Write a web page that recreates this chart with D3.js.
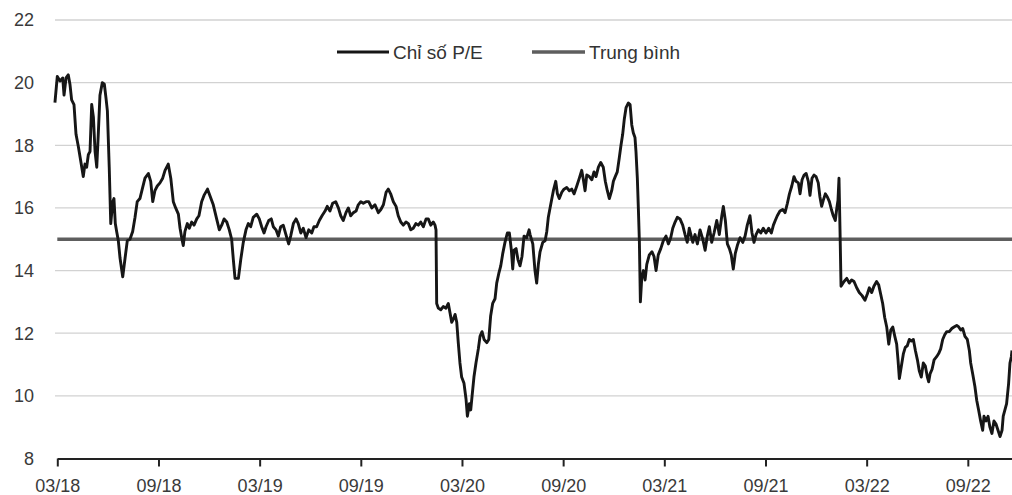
<!DOCTYPE html>
<html>
<head>
<meta charset="utf-8">
<script src="https://cdn.jsdelivr.net/npm/d3@7"></script>
<style>
  html, body { margin: 0; padding: 0; background: #fff; }
  svg { display: block; font-family: "Liberation Sans", Arial, Helvetica, sans-serif; }
</style>
</head>
<body>
<svg id="chart" width="1012" height="495"></svg>
<script>
// ---- Data (x = months since 03/2018) ----
const months = [
-0.14,0.00,0.16,0.32,0.40,0.52,0.65,0.75,0.85,0.99,1.11,1.25,1.39,1.54,1.64,1.74,1.84,1.94,2.04,2.14,
2.24,2.34,2.43,2.53,2.67,2.79,2.89,2.97,3.08,3.17,3.29,3.36,3.44,3.52,3.62,3.72,3.88,4.02,4.15,4.31,
4.47,4.61,4.74,4.90,5.06,5.20,5.40,5.54,5.66,5.79,5.93,6.09,6.25,6.39,6.58,6.73,6.88,7.02,7.18,7.28,
7.41,7.47,7.57,7.71,7.83,7.97,8.11,8.27,8.40,8.56,8.70,8.91,9.25,9.45,9.61,9.75,9.89,10.05,10.20,10.34,
10.44,10.54,10.74,10.88,11.03,11.19,11.33,11.47,11.62,11.83,11.98,12.12,12.26,12.38,12.54,12.69,12.81,12.97,13.11,13.25,
13.40,13.56,13.72,13.84,14.00,14.16,14.29,14.44,14.59,14.75,14.91,15.09,15.22,15.38,15.54,15.70,15.88,16.01,16.17,16.33,
16.51,16.67,16.81,16.96,17.12,17.26,17.40,17.56,17.72,17.85,18.00,18.15,18.31,18.47,18.65,18.84,19.04,19.19,19.34,19.50,
19.63,19.77,19.93,20.09,20.22,20.37,20.52,20.68,20.82,20.96,21.11,21.27,21.41,21.55,21.71,21.87,22.00,22.15,22.30,22.40,
22.46,22.50,22.60,22.74,22.89,23.05,23.19,23.29,23.39,23.49,23.59,23.69,23.78,23.88,23.98,24.12,24.24,24.32,24.44,24.52,
24.60,24.71,24.83,24.97,25.07,25.19,25.31,25.47,25.59,25.70,25.82,25.96,26.06,26.18,26.30,26.42,26.55,26.69,26.81,26.93,
27.01,27.09,27.21,27.32,27.44,27.56,27.68,27.84,27.98,28.04,28.20,28.33,28.43,28.53,28.63,28.79,28.93,29.03,29.12,29.26,
29.42,29.56,29.66,29.77,29.92,30.05,30.21,30.37,30.51,30.65,30.81,30.96,31.10,31.20,31.30,31.40,31.55,31.70,31.83,31.95,
32.09,32.23,32.38,32.50,32.62,32.74,32.88,32.98,33.09,33.21,33.33,33.43,33.53,33.63,33.73,33.87,33.97,34.07,34.16,34.26,
34.32,34.40,34.46,34.52,34.58,34.66,34.76,34.86,34.96,35.11,35.27,35.39,35.51,35.64,35.79,35.94,36.10,36.24,36.38,36.50,
36.64,36.77,36.93,37.09,37.23,37.36,37.48,37.69,37.82,37.96,38.12,38.28,38.42,38.55,38.67,38.81,38.95,39.11,39.26,39.41,
39.50,39.62,39.74,39.86,39.97,40.09,40.21,40.33,40.49,40.65,40.79,40.92,41.08,41.20,41.32,41.44,41.58,41.72,41.87,42.03,
42.19,42.35,42.47,42.58,42.70,42.86,43.02,43.16,43.30,43.42,43.56,43.69,43.81,43.95,44.05,44.17,44.29,44.41,44.54,44.64,
44.76,44.88,45.00,45.13,45.23,45.33,45.43,45.55,45.67,45.79,45.91,46.02,46.14,46.22,46.30,46.36,46.42,46.48,46.66,46.82,
46.97,47.11,47.25,47.41,47.56,47.73,47.90,48.04,48.16,48.30,48.43,48.59,48.71,48.83,48.95,49.07,49.19,49.31,49.43,49.55,
49.67,49.78,49.86,49.94,50.06,50.18,50.29,50.41,50.53,50.65,50.77,50.89,51.01,51.12,51.24,51.36,51.48,51.60,51.68,51.76,
51.88,52.00,52.15,52.27,52.39,52.51,52.63,52.75,52.90,53.05,53.18,53.34,53.46,53.58,53.70,53.83,53.97,54.09,54.17,54.29,
54.42,54.53,54.64,54.76,54.88,54.96,55.08,55.20,55.31,55.43,55.55,55.67,55.79,55.91,56.03,56.10,56.20,56.30,56.42,56.50,
56.58,56.62
];
const peValues = [
19.36,20.2,20.05,20.15,19.6,20.15,20.25,19.95,19.45,19.3,18.35,17.95,17.5,17.0,17.4,17.3,17.7,17.8,19.3,18.9,
17.8,17.3,18.35,19.6,20.0,19.95,19.5,19.1,17.3,15.5,16.2,16.3,15.5,15.25,14.95,14.4,13.8,14.4,14.95,15.0,
15.25,15.7,16.2,16.3,16.65,16.95,17.1,16.85,16.2,16.55,16.7,16.8,16.95,17.2,17.4,16.95,16.2,16.0,15.8,15.35,
14.95,14.8,15.25,15.5,15.35,15.55,15.45,15.65,15.75,16.2,16.4,16.6,16.1,15.65,15.3,15.45,15.65,15.55,15.3,15.0,
14.35,13.75,13.75,14.35,14.9,15.3,15.5,15.4,15.7,15.8,15.65,15.4,15.2,15.4,15.6,15.65,15.4,15.3,15.1,15.4,
15.45,15.15,14.85,15.1,15.5,15.65,15.5,15.2,15.35,15.05,15.3,15.2,15.4,15.4,15.6,15.75,15.9,16.05,15.9,16.15,
16.2,16.0,15.75,15.6,15.85,16.0,15.75,15.85,15.9,16.1,16.2,16.15,16.2,16.2,16.0,16.1,15.85,15.95,16.1,16.5,
16.6,16.45,16.2,16.05,15.75,15.55,15.45,15.55,15.5,15.3,15.35,15.5,15.45,15.55,15.4,15.65,15.65,15.45,15.55,15.45,
15.3,12.95,12.8,12.75,12.85,12.8,12.95,12.65,12.35,12.45,12.6,12.35,11.7,11.05,10.6,10.4,9.9,9.35,9.75,9.55,
10.0,10.6,11.05,11.5,11.9,12.05,11.8,11.7,11.8,12.55,12.95,13.1,13.6,13.9,14.15,14.55,14.9,15.2,15.2,14.65,
14.05,14.65,14.7,14.35,14.15,14.45,15.1,15.05,15.3,15.15,14.85,14.0,13.6,14.2,14.6,14.9,14.95,15.25,15.7,16.1,
16.55,16.85,16.45,16.3,16.5,16.6,16.65,16.55,16.6,16.45,16.7,16.95,17.2,16.9,16.55,17.05,17.0,16.9,17.15,17.0,
17.3,17.45,17.3,16.85,16.55,16.3,16.55,16.85,17.0,17.15,17.6,18.0,18.35,18.85,19.2,19.35,19.3,18.65,18.4,18.25,
17.8,16.95,16.0,14.95,13.0,13.75,14.0,13.7,14.2,14.5,14.6,14.45,14.0,14.5,14.7,14.95,15.1,14.85,15.05,15.35,
15.55,15.7,15.65,15.45,15.15,14.9,15.35,14.9,15.15,14.85,15.3,15.0,14.65,15.1,15.4,14.9,15.2,15.6,15.15,15.75,
16.05,15.6,14.85,14.7,14.5,14.05,14.55,14.8,15.05,14.9,15.1,15.45,15.75,15.2,14.9,15.15,15.3,15.2,15.35,15.2,
15.35,15.2,15.45,15.6,15.75,15.9,15.95,15.85,16.15,16.45,16.7,17.0,16.85,16.8,16.45,16.9,17.05,17.1,16.85,16.4,
16.95,17.05,17.0,16.8,16.35,16.05,16.25,16.45,16.35,16.2,15.95,15.75,15.6,15.95,16.25,16.95,15.3,13.5,13.65,13.75,
13.6,13.7,13.65,13.45,13.3,13.2,13.05,13.25,13.45,13.3,13.5,13.65,13.55,13.25,12.95,12.5,12.2,11.65,12.1,12.2,
11.9,11.65,11.15,10.55,10.95,11.35,11.55,11.6,11.8,11.75,11.8,11.45,11.15,10.8,10.6,11.05,10.95,10.6,10.45,10.7,
10.85,11.15,11.25,11.35,11.5,11.8,11.95,12.05,12.05,12.15,12.2,12.25,12.2,12.1,12.15,11.9,11.8,11.45,11.05,10.7,
10.3,9.85,9.55,9.2,8.9,9.35,9.2,9.35,9.0,8.8,9.2,9.1,8.9,8.7,8.9,9.35,9.55,9.75,10.4,11.05,
11.25,11.45
];
const meanValue = 15.0;
const tickMonths = [0, 6, 12, 18, 24, 30, 36, 42, 48, 54];
const tickLabels = ["03/18","09/18","03/19","09/19","03/20","09/20","03/21","09/21","03/22","09/22"];
const yTicks = [8, 10, 12, 14, 16, 18, 20, 22];
const legendLabels = ["Chỉ số P/E", "Trung bình"];

// ---- Chart ----
const svg = d3.select("#chart");
const W = 1012, H = 495;
svg.append("rect").attr("width", W).attr("height", H).attr("fill", "#fff");

const x = d3.scaleLinear().domain([0, 56.62]).range([57.3, 1012]);
const y = d3.scaleLinear().domain([8, 22]).range([458.5, 20]);

// gridlines
svg.append("g").selectAll("line").data(yTicks.filter(d => d > 8)).join("line")
  .attr("x1", 55).attr("x2", W)
  .attr("y1", d => y(d)).attr("y2", d => y(d))
  .attr("stroke", "#d2d2d2").attr("stroke-width", 1.3);

// y labels
svg.append("g").selectAll("text").data(yTicks).join("text")
  .attr("x", 34).attr("y", d => y(d)).attr("dy", "0.36em")
  .attr("text-anchor", "end").attr("font-size", 18).attr("fill", "#3a3a3a")
  .text(d => d);

// mean line
svg.append("line")
  .attr("x1", x(0)).attr("x2", W)
  .attr("y1", y(meanValue)).attr("y2", y(meanValue))
  .attr("stroke", "#5e5e5e").attr("stroke-width", 3.3);

// P/E line
const line = d3.line().x((d, i) => x(months[i])).y(d => y(d)).curve(d3.curveLinear);
svg.append("path").datum(peValues)
  .attr("d", line).attr("fill", "none")
  .attr("stroke", "#161616").attr("stroke-width", 2.9)
  .attr("stroke-linejoin", "round");

// x axis
const xAxis = d3.axisBottom(x).tickValues(tickMonths)
  .tickFormat((d, i) => tickLabels[i]).tickSizeInner(8).tickSizeOuter(0);
const gx = svg.append("g").attr("transform", `translate(0,${y(8)})`).call(xAxis);
gx.select(".domain").attr("stroke", "#222").attr("stroke-width", 2);
gx.selectAll(".tick line").attr("stroke", "#222").attr("stroke-width", 2);
gx.selectAll(".tick text").attr("y", 21).attr("font-size", 18).attr("fill", "#3a3a3a")
  .attr("font-family", "Liberation Sans, Arial, sans-serif");

// legend
const legend = svg.append("g");
const legendItems = [
  { label: legendLabels[0], x1: 337, x2: 389, color: "#161616", w: 3 },
  { label: legendLabels[1], x1: 532, x2: 585, color: "#5e5e5e", w: 3.3 }
];
legendItems.forEach(it => {
  legend.append("line").attr("x1", it.x1).attr("x2", it.x2).attr("y1", 52).attr("y2", 52)
    .attr("stroke", it.color).attr("stroke-width", it.w);
  legend.append("text").attr("x", it.x2 + 4).attr("y", 58.5)
    .attr("font-size", 19).attr("fill", "#333").text(it.label);
});
</script>
</body>
</html>
